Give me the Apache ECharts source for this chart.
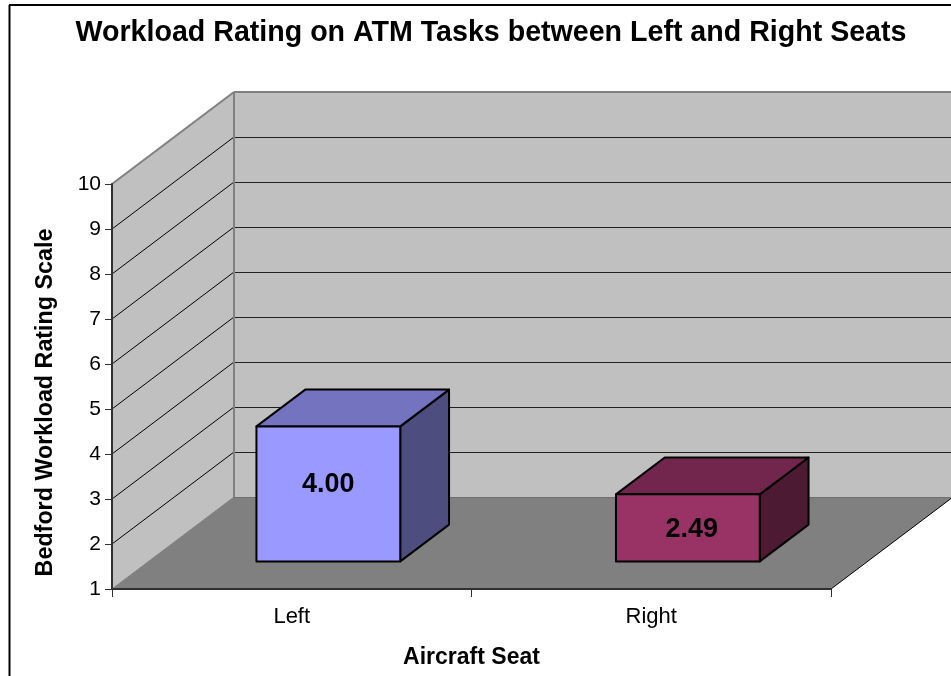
<!DOCTYPE html>
<html>
<head>
<meta charset="utf-8">
<script src="https://cdn.jsdelivr.net/npm/echarts@6/dist/echarts.min.js"></script>
<style>
  html, body { margin: 0; padding: 0; background: #fff; }
  #chart { width: 951px; height: 676px; }
</style>
</head>
<body>
<div id="chart"></div>
<script>
const seats = ['Left', 'Right']
const ratings = [4.00, 2.49]
const ratingLabels = ['4.00', '2.49']
const scaleMin = 1
const scaleMax = 10
const barColors = [
  { front: '#9999FF', top: '#7373BF', side: '#4D4D80' },
  { front: '#993366', top: '#73264D', side: '#4D1A33' }
]

// oblique projection of the fake 3d box
const DEPTH_X = 122
const DEPTH_Y = 92
const BAR_START = 0.3
const BAR_DEPTH = 0.4
const BAR_WIDTH = 0.4
// the labels don't sit dead centre on the bar faces
const LABEL_NUDGE = [[0, -9], [4, 2]]
const FONT = '"Liberation Sans", Arial, sans-serif'

const chart = echarts.init(document.getElementById('chart'))

const project = (p, d) => [p[0] + DEPTH_X * d, p[1] - DEPTH_Y * d]

function poly(points, fill, stroke, lineWidth) {
  return {
    type: 'polygon',
    shape: { points },
    style: { fill, stroke: stroke || 'none', lineWidth: lineWidth || 0, lineJoin: 'round' }
  }
}

function segment(a, b, stroke, lineWidth) {
  const w = lineWidth || 1
  // keep straight 1px lines crisp
  const snap = w % 2 ? v => Math.round(v) + 0.5 : v => Math.round(v)
  const horizontal = a[1] === b[1]
  const vertical = a[0] === b[0]
  return {
    type: 'line',
    shape: {
      x1: vertical ? snap(a[0]) : a[0],
      y1: horizontal ? snap(a[1]) : a[1],
      x2: vertical ? snap(b[0]) : b[0],
      y2: horizontal ? snap(b[1]) : b[1]
    },
    style: { stroke, lineWidth: w }
  }
}

function renderWalls(params, api) {
  if (params.dataIndex !== 0) return
  const size = api.size([1, 0])[0]
  const x0 = api.coord([0, scaleMin])[0] - size / 2
  const x1 = x0 + size * seats.length
  const yAt = v => api.coord([0, v])[1]
  const corner = (x, v, d) => project([x, yAt(v)], d)
  const children = [
    // side wall, back wall, floor
    poly([corner(x0, scaleMin, 0), corner(x0, scaleMin, 1), corner(x0, scaleMax, 1), corner(x0, scaleMax, 0)], '#C0C0C0'),
    poly([corner(x0, scaleMin, 1), corner(x1, scaleMin, 1), corner(x1, scaleMax, 1), corner(x0, scaleMax, 1)], '#C0C0C0'),
    poly([corner(x0, scaleMin, 0), corner(x1, scaleMin, 0), corner(x1, scaleMin, 1), corner(x0, scaleMin, 1)], '#808080')
  ]
  for (let v = scaleMin + 1; v < scaleMax; v++) {
    children.push(segment(corner(x0, v, 0), corner(x0, v, 1), '#000', 1))
    children.push(segment(corner(x0, v, 1), corner(x1, v, 1), '#202020', 1))
  }
  children.push(segment(corner(x0, scaleMax, 0), corner(x0, scaleMax, 1), '#808080', 2))
  children.push(segment(corner(x0, scaleMax, 1), corner(x1, scaleMax, 1), '#808080', 2))
  children.push(segment(corner(x0, scaleMin, 1), corner(x0, scaleMax, 1), '#808080', 2))
  children.push(segment(corner(x0, scaleMin, 1), corner(x1, scaleMin, 1), '#707070', 1))
  children.push(segment(corner(x0, scaleMin, 0), corner(x0, scaleMin, 1), '#808080', 1))
  children.push(segment(corner(x1, scaleMin, 0), corner(x1, scaleMin, 1), '#000', 1))
  return { type: 'group', children }
}

function renderBar(params, api) {
  const i = api.value(0)
  const band = api.size([1, 0])[0]
  const base = api.coord([i, scaleMin])
  const head = api.coord([i, api.value(1)])
  const w = band * BAR_WIDTH
  const fl = [base[0] - w / 2, base[1]]
  const fr = [base[0] + w / 2, base[1]]
  const tl = [base[0] - w / 2, head[1]]
  const tr = [base[0] + w / 2, head[1]]
  const near = p => project(p, BAR_START)
  const far = p => project(p, BAR_START + BAR_DEPTH)
  const colors = barColors[i]
  return {
    type: 'group',
    children: [
      poly([near(fr), far(fr), far(tr), near(tr)], colors.side, '#000', 2),
      poly([near(tl), near(tr), far(tr), far(tl)], colors.top, '#000', 2),
      poly([near(fl), near(fr), near(tr), near(tl)], colors.front, '#000', 2),
      {
        type: 'text',
        style: {
          x: near(fl)[0] + w / 2 + LABEL_NUDGE[i][0],
          y: (near(fl)[1] + near(tl)[1]) / 2 + LABEL_NUDGE[i][1],
          text: ratingLabels[i],
          fill: '#000',
          font: 'bold 27px ' + FONT,
          align: 'center',
          verticalAlign: 'middle'
        }
      }
    ]
  }
}

chart.setOption({
  backgroundColor: '#fff',
  animation: false,
  title: {
    text: 'Workload Rating on ATM Tasks between Left and Right Seats',
    left: 486,
    top: 14,
    textAlign: 'center',
    textStyle: { fontFamily: FONT, fontSize: 28.6, fontWeight: 'bold', color: '#000' }
  },
  grid: { left: 112, right: 120, top: 184, bottom: 87 },
  xAxis: {
    type: 'category',
    data: seats,
    name: 'Aircraft Seat',
    nameLocation: 'middle',
    nameGap: 57,
    nameTextStyle: { fontFamily: FONT, fontSize: 23, fontWeight: 'bold', color: '#000' },
    axisLine: { show: true, lineStyle: { color: '#303030', width: 2 } },
    axisTick: { show: true, alignWithLabel: false, length: 8, lineStyle: { color: '#303030' } },
    axisLabel: { fontFamily: FONT, fontSize: 22, color: '#000', margin: 17 },
    z: 5
  },
  yAxis: {
    type: 'value',
    min: scaleMin,
    max: scaleMax,
    interval: 1,
    name: 'Bedford Workload Rating Scale',
    nameLocation: 'middle',
    nameGap: 55,
    nameTextStyle: { fontFamily: FONT, fontSize: 23.3, fontWeight: 'bold', color: '#000', padding: [0, 32, 0, 0] },
    splitLine: { show: false },
    axisLine: { show: true, lineStyle: { color: '#303030', width: 2 } },
    axisTick: { show: true, length: 7, lineStyle: { color: '#303030' } },
    axisLabel: { fontFamily: FONT, fontSize: 21, color: '#000', margin: 11 },
    z: 5
  },
  graphic: [
    { type: 'line', shape: { x1: 9.5, y1: 5, x2: 9.5, y2: 676 }, style: { stroke: '#000', lineWidth: 2 } },
    { type: 'line', shape: { x1: 9, y1: 5, x2: 951, y2: 5 }, style: { stroke: '#000', lineWidth: 2 } }
  ],
  series: [
    {
      type: 'custom',
      renderItem: renderWalls,
      data: [[0, scaleMin]],
      encode: { x: 0, y: 1 },
      silent: true,
      clip: false,
      z: 1
    },
    {
      type: 'custom',
      renderItem: renderBar,
      data: ratings.map((v, i) => [i, v]),
      encode: { x: 0, y: 1 },
      clip: false,
      z: 2
    }
  ]
})

window.addEventListener('resize', () => chart.resize())
</script>
</body>
</html>
